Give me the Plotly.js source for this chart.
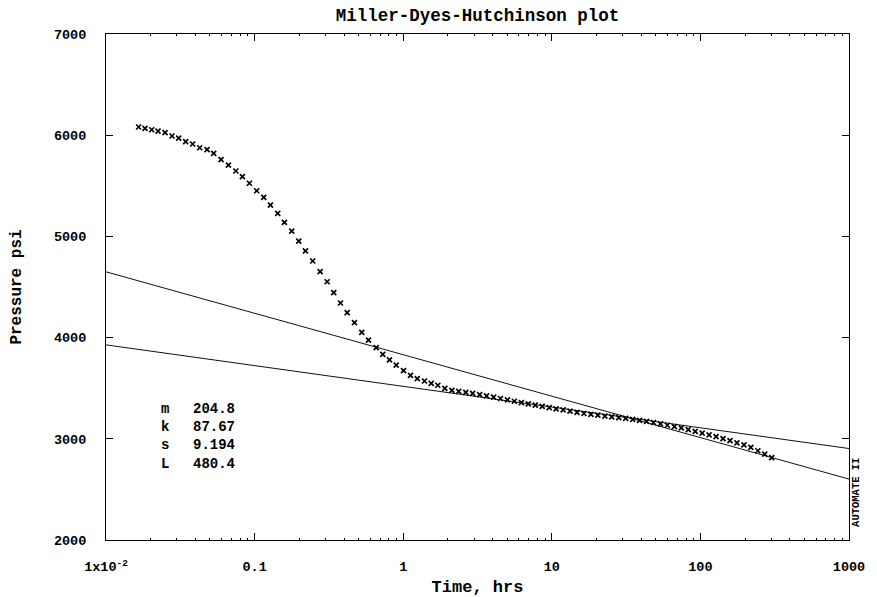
<!DOCTYPE html>
<html>
<head>
<meta charset="utf-8">
<script src="https://cdn.plot.ly/plotly-3.0.1.min.js"></script>
<style>
  html, body { margin: 0; padding: 0; background: #fff; }
  #chart { width: 877px; height: 597px; }
</style>
</head>
<body>
<div id="chart"></div>
<script>
// ---- data ----
const timeHrs = [0.01658,0.0183,0.0203,0.0224,0.02496,0.02782,0.03083,0.03436,0.03831,0.0427,
  0.04787,0.05304,0.05949,0.06662,0.0748,0.08276,0.09226,0.1033,0.1152,0.1278,
  0.1431,0.1587,0.1777,0.1982,0.2198,0.2461,0.2761,0.3078,0.3409,0.3783,
  0.4197,0.4699,0.5262,0.5838,0.6579,0.729,0.8087,0.8972,1.005,1.12,
  1.243,1.391,1.544,1.71,1.906,2.125,2.364,2.636,2.933,3.269,
  3.638,4.057,4.513,5.031,5.6,6.243,6.948,7.743,8.619,9.605,
  10.69,11.92,13.26,14.78,16.45,18.34,20.41,22.75,25.32,28.22,
  31.41,35.01,38.96,43.42,48.33,53.86,59.96,66.83,74.37,82.87,
  92.26,102.8,114.4,127.5,142.0,158.2,176.1,196.3,218.5,243.5,
  271.0,302.0];
const pressurePsi = [6081,6068,6054,6041,6025,5992,5972,5936,5913,5876,
  5857,5821,5758,5705,5646,5590,5525,5451,5386,5310,
  5228,5139,5053,4954,4856,4757,4651,4552,4444,4342,
  4246,4147,4052,3976,3900,3835,3779,3729,3673,3627,
  3594,3571,3548,3529,3499,3479,3468,3458,3448,3437,
  3425,3411,3398,3384,3371,3358,3346,3333,3321,3308,
  3296,3285,3273,3262,3250,3242,3234,3225,3217,3209,
  3201,3191,3182,3173,3161,3147,3134,3120,3107,3090,
  3073,3056,3039,3022,3002,2981,2960,2940,2916,2882,
  2848,2813];
const lineTime = [0.01, 1000];
const steepLineP = [4650, 2602];
const mdhLineP = [3928, 2904];
const xTickVals = [0.01, 0.1, 1, 10, 100, 1000];
const xTickText = ['1x10<sup>-2</sup>', '0.1', '1', '10', '100', '1000'];
const yTickVals = [2000, 3000, 4000, 5000, 6000, 7000];
const statLabels = ['m', 'k', 's', 'L'];
const statValues = ['204.8', '87.67', '9.194', '480.4'];

// minor tick positions (2..9 of every decade)
const minorVals = [];
for (let e = -2; e < 3; e++) for (let k = 2; k <= 9; k++) minorVals.push(k * Math.pow(10, e));

const FONT = 'Liberation Mono, Courier New, monospace';

const traces = [
  { x: lineTime, y: steepLineP, mode: 'lines', line: {color: '#111', width: 1}, hoverinfo: 'skip', showlegend: false },
  { x: lineTime, y: mdhLineP, mode: 'lines', line: {color: '#111', width: 1}, hoverinfo: 'skip', showlegend: false },
  { x: timeHrs, y: pressurePsi, mode: 'markers', showlegend: false,
    marker: {symbol: 'x-thin-open', size: 5, color: '#000', line: {color: '#000', width: 1.7}} }
];

const layout = {
  width: 877, height: 597,
  margin: {l: 106, r: 28, t: 34, b: 57},
  paper_bgcolor: '#fff', plot_bgcolor: '#fff',
  showlegend: false,
  font: {family: FONT, color: '#000', weight: 'bold'},
  title: {text: 'Miller-Dyes-Hutchinson plot', font: {family: FONT, size: 17.5, weight: 'bold', color: '#000'},
          x: 0.5, xref: 'paper', y: 0.975, yref: 'container', yanchor: 'middle'},
  xaxis: {
    type: 'log', range: [-2, 3],
    tickmode: 'array', tickvals: xTickVals, ticktext: xTickText,
    ticks: 'inside', ticklen: 7, tickwidth: 1, tickcolor: '#000',
    showline: true, linecolor: '#000', linewidth: 1, mirror: 'ticks',
    showgrid: false, zeroline: false,
    tickfont: {family: FONT, size: 13.5, weight: 'bold', color: '#000'},
    ticklabelstandoff: 14,
    minor: {tickmode: 'array', tickvals: minorVals, ticks: 'inside', ticklen: 2, tickcolor: '#000', showgrid: false},
    title: {text: 'Time, hrs', font: {family: FONT, size: 17, weight: 'bold', color: '#000'}, standoff: 6}
  },
  yaxis: {
    range: [2000, 7000],
    tickmode: 'array', tickvals: yTickVals,
    ticks: 'inside', ticklen: 7, tickwidth: 1, tickcolor: '#000',
    showline: true, linecolor: '#000', linewidth: 1, mirror: 'ticks',
    showgrid: false, zeroline: false,
    tickfont: {family: FONT, size: 13.5, weight: 'bold', color: '#000'},
    ticklabelstandoff: 16,
    title: {text: 'Pressure psi', font: {family: FONT, size: 16, weight: 'bold', color: '#000'}, standoff: 28}
  },
  annotations: [
    { xref: 'paper', yref: 'paper', x: 0.071, y: 0.279, xanchor: 'left', yanchor: 'top', align: 'left',
      showarrow: false, text: statLabels.join('<br>'), font: {family: FONT, size: 14, weight: 'bold', color: '#000'} },
    { xref: 'paper', yref: 'paper', x: 0.115, y: 0.279, xanchor: 'left', yanchor: 'top', align: 'left',
      showarrow: false, text: statValues.join('<br>'), font: {family: FONT, size: 14, weight: 'bold', color: '#000'} },
    { xref: 'paper', yref: 'paper', x: 1.0094, y: 0.095, xanchor: 'center', yanchor: 'middle', textangle: -90,
      showarrow: false, text: 'AUTOMATE II', font: {family: FONT, size: 10.5, weight: 'bold', color: '#000'} }
  ]
};

Plotly.newPlot('chart', traces, layout, {displayModeBar: false, staticPlot: true});
</script>
</body>
</html>
